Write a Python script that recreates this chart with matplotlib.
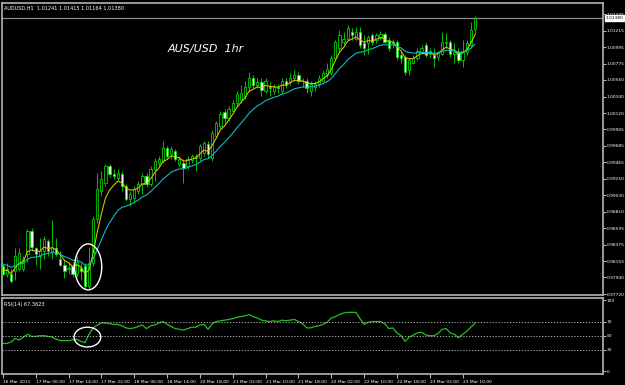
import numpy as np
import matplotlib
matplotlib.use("Agg")
import matplotlib.pyplot as plt
import matplotlib.transforms as mtransforms
from matplotlib.patches import Ellipse

# AUDUSD H1 candles, 16-23 Mar 2011
opens = [0.9809, 0.9799, 0.9799, 0.9802, 0.9805, 0.9805, 0.9825, 0.9855, 0.9833, 0.9822,
         0.9829, 0.9842, 0.9829, 0.9833, 0.9819, 0.9811, 0.9805, 0.9809, 0.9798, 0.9806,
         0.9809, 0.9782, 0.9813, 0.9871, 0.9909, 0.9919, 0.9942, 0.9931, 0.9926, 0.9931,
         0.9915, 0.9898, 0.9899, 0.9909, 0.9918, 0.9929, 0.9918, 0.9938, 0.9946, 0.9949,
         0.9966, 0.9958, 0.9962, 0.9945, 0.9946, 0.9942, 0.9950, 0.9953, 0.9953, 0.9959,
         0.9971, 0.9953, 0.9982, 0.9995, 1.0013, 1.0005, 1.0015, 1.0025, 1.0029, 1.0035,
         1.0046, 1.0058, 1.0049, 1.0053, 1.0042, 1.0047, 1.0042, 1.0047, 1.0042, 1.0055,
         1.0053, 1.0058, 1.0062, 1.0055, 1.0055, 1.0042, 1.0046, 1.0051, 1.0055, 1.0062,
         1.0065, 1.0085, 1.0098, 1.0106, 1.0111, 1.0119, 1.0111, 1.0119, 1.0105, 1.0105,
         1.0115, 1.0109, 1.0113, 1.0117, 1.0109, 1.0105, 1.0106, 1.0089, 1.0086, 1.0069,
         1.0079, 1.0085, 1.0093, 1.0102, 1.0091, 1.0089, 1.0086, 1.0091, 1.0105, 1.0106,
         1.0091, 1.0093, 1.0082, 1.0093, 1.0102, 1.01241]
highs = [0.9813, 0.9813, 0.9805, 0.9833, 0.9833, 0.9822, 0.9858, 0.9859, 0.9835, 0.9846,
         0.9849, 0.9845, 0.9870, 0.9846, 0.9829, 0.9818, 0.9815, 0.9815, 0.9822, 0.9813,
         0.9813, 0.9835, 0.9875, 0.9933, 0.9935, 0.9945, 0.9945, 0.9938, 0.9938, 0.9935,
         0.9918, 0.9909, 0.9915, 0.9922, 0.9933, 0.9933, 0.9942, 0.9953, 0.9955, 0.9975,
         0.9969, 0.9969, 0.9965, 0.9955, 0.9951, 0.9955, 0.9958, 0.9958, 0.9971, 0.9975,
         0.9975, 0.9989, 1.0002, 1.0015, 1.0018, 1.0022, 1.0029, 1.0042, 1.0049, 1.0055,
         1.0066, 1.0062, 1.0058, 1.0058, 1.0059, 1.0053, 1.0051, 1.0050, 1.0059, 1.0059,
         1.0065, 1.0069, 1.0066, 1.0058, 1.0059, 1.0055, 1.0055, 1.0062, 1.0069, 1.0078,
         1.0089, 1.0109, 1.0122, 1.0119, 1.0129, 1.0125, 1.0126, 1.0126, 1.0115, 1.0115,
         1.0118, 1.0118, 1.0121, 1.0119, 1.0113, 1.0111, 1.0109, 1.0093, 1.0089, 1.0085,
         1.0089, 1.0098, 1.0102, 1.0106, 1.0098, 1.0098, 1.0095, 1.0119, 1.0118, 1.0109,
         1.0105, 1.0098, 1.0109, 1.0109, 1.0133, 1.01415]
lows = [0.9797, 0.9794, 0.9786, 0.9791, 0.9802, 0.9802, 0.9815, 0.9829, 0.9811, 0.9805,
        0.9818, 0.9822, 0.9819, 0.9822, 0.9809, 0.9793, 0.9799, 0.9795, 0.9795, 0.9791,
        0.9779, 0.9778, 0.9809, 0.9866, 0.9902, 0.9915, 0.9927, 0.9925, 0.9922, 0.9909,
        0.9895, 0.9889, 0.9895, 0.9905, 0.9905, 0.9914, 0.9915, 0.9922, 0.9942, 0.9946,
        0.9951, 0.9951, 0.9949, 0.9942, 0.9919, 0.9938, 0.9946, 0.9935, 0.9949, 0.9955,
        0.9953, 0.9949, 0.9979, 0.9991, 0.9999, 1.0002, 1.0013, 1.0021, 1.0026, 1.0031,
        1.0042, 1.0045, 1.0045, 1.0035, 1.0039, 1.0035, 1.0038, 1.0039, 1.0039, 1.0045,
        1.0049, 1.0055, 1.0050, 1.0047, 1.0039, 1.0035, 1.0042, 1.0047, 1.0053, 1.0058,
        1.0062, 1.0082, 1.0093, 1.0102, 1.0109, 1.0109, 1.0109, 1.0099, 1.0089, 1.0091,
        1.0102, 1.0105, 1.0109, 1.0105, 1.0095, 1.0098, 1.0083, 1.0079, 1.0063, 1.0062,
        1.0077, 1.0082, 1.0090, 1.0086, 1.0087, 1.0073, 1.0082, 1.0089, 1.0098, 1.0087,
        1.0079, 1.0079, 1.0073, 1.0089, 1.0099, 1.01164]
closes = [0.9799, 0.9805, 0.9789, 0.9822, 0.9826, 0.9819, 0.9855, 0.9835, 0.9825, 0.9829,
          0.9845, 0.9829, 0.9835, 0.9825, 0.9811, 0.9802, 0.9807, 0.9799, 0.9815, 0.9802,
          0.9782, 0.9813, 0.9871, 0.9911, 0.9925, 0.9942, 0.9931, 0.9929, 0.9933, 0.9915,
          0.9898, 0.9905, 0.9911, 0.9918, 0.9929, 0.9918, 0.9938, 0.9949, 0.9951, 0.9966,
          0.9955, 0.9965, 0.9951, 0.9951, 0.9939, 0.9951, 0.9955, 0.9955, 0.9969, 0.9973,
          0.9958, 0.9985, 0.9999, 1.0011, 1.0005, 1.0018, 1.0026, 1.0038, 1.0039, 1.0046,
          1.0058, 1.0049, 1.0053, 1.0043, 1.0055, 1.0045, 1.0046, 1.0045, 1.0055, 1.0049,
          1.0059, 1.0062, 1.0054, 1.0054, 1.0045, 1.0051, 1.0051, 1.0058, 1.0065, 1.0071,
          1.0085, 1.0106, 1.0115, 1.0111, 1.0125, 1.0115, 1.0119, 1.0102, 1.0099, 1.0113,
          1.0106, 1.0115, 1.0117, 1.0107, 1.0099, 1.0106, 1.0086, 1.0085, 1.0066, 1.0082,
          1.0085, 1.0095, 1.0098, 1.0089, 1.0095, 1.0085, 1.0093, 1.0106, 1.0107, 1.0091,
          1.0093, 1.0082, 1.0093, 1.0105, 1.0122, 1.01380]

# RSI(14) per bar
rsi = [39, 39, 41, 46, 44, 48, 52, 49, 49, 50, 50, 49, 48, 45, 43, 43, 43, 44, 45, 42,
       40, 52, 61, 65, 68, 68, 67, 66, 66, 64, 61, 60, 61, 63, 65, 60, 64, 65, 68, 70,
       66, 63, 60, 59, 58, 60, 62, 62, 65, 66, 59, 67, 70, 71, 72, 73, 74, 76, 77, 78,
       80, 77, 75, 72, 71, 70, 71, 70, 72, 71, 72, 73, 70, 67, 61, 61, 63, 64, 66, 69,
       75, 77, 80, 82, 83, 83, 83, 74, 66, 69, 70, 70, 70, 67, 60, 61, 54, 50, 42, 48,
       51, 54, 55, 51, 50, 50, 53, 59, 60, 54, 52, 47, 52, 56, 62, 67.36]

# moving averages seeded with the values showing at the left edge
ma_fast_start = 0.9805
ma_slow_start = 0.9813

time_bars = [0, 8, 16, 24, 32, 40, 48, 56, 64, 72, 80, 88, 96, 104, 112]
time_labels = ["16 Mar 2011", "17 Mar 06:00", "17 Mar 14:00", "17 Mar 22:00", "18 Mar 06:00",
               "18 Mar 14:00", "20 Mar 18:00", "21 Mar 02:00", "21 Mar 10:00", "21 Mar 18:00",
               "22 Mar 02:00", "22 Mar 10:00", "22 Mar 18:00", "23 Mar 02:00", "23 Mar 10:00"]
price_ticks = [1.01435, 1.01215, 1.00995, 1.00775, 1.00560, 1.00340, 1.00120, 0.99905, 0.99685,
               0.99465, 0.99250, 0.99030, 0.98810, 0.98595, 0.98375, 0.98155, 0.97940, 0.97720]
rsi_levels = [30, 50, 70]
rsi_ticks = [0, 30, 50, 70, 100]


def ema(vals, n, start):
    k = 2.0 / (n + 1)
    out = []
    m = start
    for v in vals:
        m = m + k * (v - m)
        out.append(m)
    return out


GREEN = "#00e000"
FRAME = "#b4b4b4"
FS = 3.2

o = np.array(opens)
h = np.array(highs)
l = np.array(lows)
c = np.array(closes)
x = np.arange(len(c))
up = c >= o

fig = plt.figure(figsize=(6.25, 3.85), dpi=100, facecolor="black")
ax = fig.add_axes([2 / 625, 1 - 295 / 385, 601 / 625, 292 / 385], facecolor="black")
ax2 = fig.add_axes([2 / 625, 1 - 374 / 385, 601 / 625, 76 / 385], facecolor="black")

# candles
ax.vlines(x, l, h, color=GREEN, lw=0.6, zorder=2)
body = np.maximum(np.abs(c - o), 0.00003)
ax.bar(x, body, bottom=np.minimum(o, c), width=0.55,
       color=np.where(up, "black", "white"), edgecolor=GREEN, linewidth=0.55, zorder=3)

ax.plot(x, ema(closes, 5, ma_fast_start), color="#d2c200", lw=0.8, zorder=4)
ax.plot(x, ema(closes, 14, ma_slow_start), color="#10b8c8", lw=0.8, zorder=4)

# current price line
ax.axhline(closes[-1], color="#8c8c8c", lw=0.9, zorder=1)

ax.add_patch(Ellipse((20.8, 0.9808), 6.6, 0.0061, fill=False, ec="white", lw=1.0, zorder=5))

ax.set_xlim(-0.2, 146.2)
ax.set_ylim(0.97707, 1.01581)
ax.yaxis.tick_right()
ax.set_yticks(price_ticks)
ax.set_yticklabels(["%.5f" % v for v in price_ticks])
ax.set_xticks([])
ax.tick_params(axis="y", colors=FRAME, labelcolor="white", labelsize=FS, length=2, pad=0.8)
for s in ax.spines.values():
    s.set_color(FRAME)
    s.set_linewidth(1.2)

ax.text(0.004, 0.992, "AUDUSD,H1  %.5f %.5f %.5f %.5f" % (opens[-1], highs[-1], lows[-1], closes[-1]),
        transform=ax.transAxes, color="white", fontsize=3.6, va="top", ha="left")
ax.text(166 / 601, 1 - 46 / 292, "AUS/USD  1hr", transform=ax.transAxes, color="white",
        fontsize=8, fontstyle="italic", va="center", ha="left")

# price box on the axis
trans = mtransforms.blended_transform_factory(ax.transAxes, ax.transData)
ax.text(1.004, closes[-1], "%.5f" % closes[-1], transform=trans, color="black", fontsize=FS,
        va="center", ha="left", clip_on=False,
        bbox=dict(boxstyle="square,pad=0.15", fc="white", ec="white"))

# RSI panel
ax2.plot(x, rsi, color="#20c020", lw=0.9)
for lv in rsi_levels:
    ax2.axhline(lv, color="#c8c8c8", lw=0.6, ls=(0, (1.5, 2)))
ax2.add_patch(Ellipse((20.6, 48), 6.5, 28, fill=False, ec="white", lw=1.0, zorder=5))
ax2.set_xlim(-0.2, 146.2)
ax2.set_ylim(-4.2, 103.3)
ax2.yaxis.tick_right()
ax2.set_yticks(rsi_ticks)
ax2.set_yticklabels([str(v) for v in rsi_ticks])
ax2.set_xticks(time_bars)
ax2.set_xticklabels(time_labels, ha="left")
ax2.tick_params(axis="y", colors=FRAME, labelcolor="white", labelsize=FS, length=2, pad=0.8)
ax2.tick_params(axis="x", colors=FRAME, labelcolor="white", labelsize=FS, length=3, pad=1)
for s in ax2.spines.values():
    s.set_color(FRAME)
    s.set_linewidth(1.2)
ax2.text(0.004, 0.95, "RSI(14) %.4f" % 67.3623, transform=ax2.transAxes, color="white",
         fontsize=3.6, va="top", ha="left")

fig.savefig("out.png", dpi=100, facecolor="black")
